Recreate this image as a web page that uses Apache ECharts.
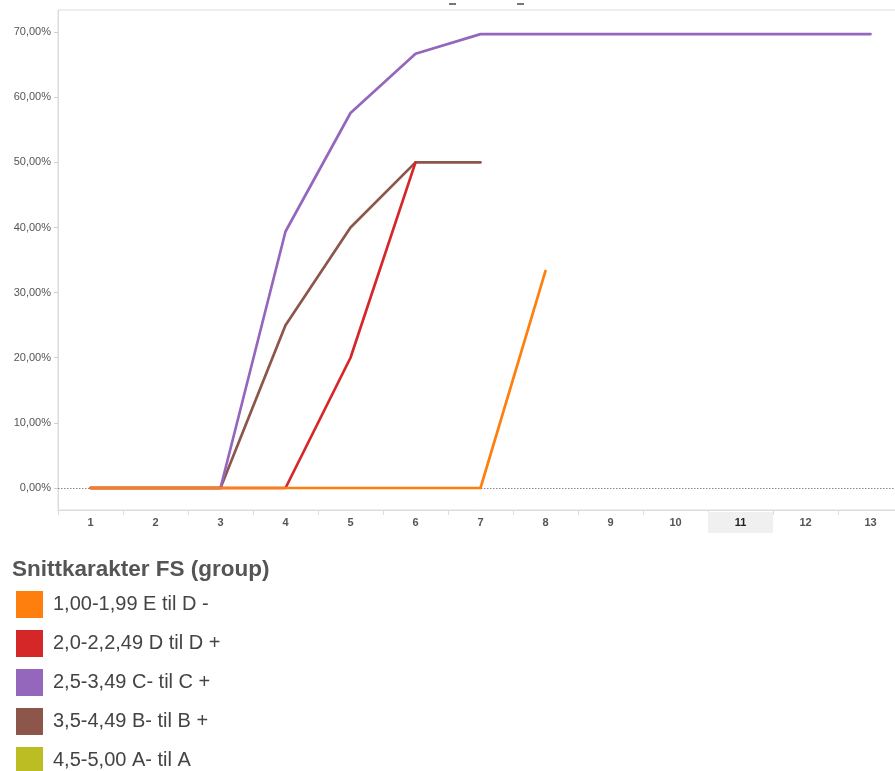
<!DOCTYPE html>
<html>
<head>
<meta charset="utf-8">
<script src="https://cdn.jsdelivr.net/npm/echarts@6/dist/echarts.min.js"></script>
<style>html,body{margin:0;padding:0;background:#fff}#c{width:895px;height:771px}</style>
</head>
<body>
<div id="c"></div>
<script>
const categories = ['1','2','3','4','5','6','7','8','9','10','11','12','13'];
const seriesNames = ['1,00-1,99 E til D -','2,0-2,2,49 D til D +','2,5-3,49 C- til C +','3,5-4,49 B- til B +','4,5-5,00 A- til A'];
const seriesColors = ['#ff7f0e','#d62728','#9467bd','#8c564b','#bcbd22'];
const orangeValues = [0,0,0,0,0,0,0,33.33,null,null,null,null,null];
const redValues    = [0,0,0,0,20,50,null,null,null,null,null,null,null];
const purpleValues = [0,0,0,39.39,57.58,66.67,69.70,69.70,69.70,69.70,69.70,69.70,69.70];
const brownValues  = [0,0,0,25,40,50,50,null,null,null,null,null,null];
const oliveValues  = [null,null,null,null,null,null,null,null,null,null,null,null,null];
const yTicks = [0,10,20,30,40,50,60,70];
const legendTitle = 'Snittkarakter FS (group)';
const highlighted = '11';

const allValues = [orangeValues, redValues, purpleValues, brownValues, oliveValues];
const drawOrder = [4,3,2,1,0];

const chart = echarts.init(document.getElementById('c'));
const fmt = v => v.toFixed(2).replace('.', ',') + '%';

const series = drawOrder.map((idx, k) => {
  const s = {
    name: seriesNames[idx],
    type: 'line',
    data: allValues[idx],
    color: seriesColors[idx],
    symbol: 'none',
    showSymbol: false,
    connectNulls: false,
    animation: false,
    lineStyle: { width: 2.7, color: seriesColors[idx], cap: 'round', join: 'round' },
    z: 3 + k
  };
  if (k === 0) {
    s.markLine = {
      silent: true, symbol: 'none', animation: false,
      label: { show: false },
      lineStyle: { color: '#888', type: [1.5, 1.5], width: 1 },
      data: [{ yAxis: 0 }]
    };
  }
  return s;
});

chart.setOption({
  animation: false,
  backgroundColor: '#fff',
  grid: { left: 58, top: 10, width: 845, height: 500, show: true, borderColor: '#dcdcdc', borderWidth: 1, outerBoundsMode: 'none', containLabel: false },
  xAxis: {
    type: 'category',
    data: categories,
    boundaryGap: true,
    axisLine: { show: true, onZero: false, lineStyle: { color: '#dcdcdc', width: 1 } },
    axisTick: { show: true, length: 5, lineStyle: { color: '#dcdcdc' } },
    axisLabel: {
      margin: 2,
      interval: 0,
      showMinLabel: true,
      showMaxLabel: true,
      hideOverlap: false,
      formatter: v => v === highlighted ? '{h|' + v + '}' : '{n|' + v + '}',
      rich: {
        n: { fontFamily: 'Liberation Sans, Arial', fontSize: 11, fontWeight: 'bold', color: '#555', width: 65, height: 21, lineHeight: 21, align: 'center' },
        h: { fontFamily: 'Liberation Sans, Arial', fontSize: 11, fontWeight: 'bold', color: '#222', width: 65, height: 21, lineHeight: 21, align: 'center', backgroundColor: '#f0f0f0' }
      }
    },
    splitLine: { show: false }
  },
  yAxis: {
    type: 'value',
    min: -3.38,
    max: 73.4,
    axisLine: { show: true, lineStyle: { color: '#dcdcdc' } },
    axisTick: { show: true, length: 4, customValues: yTicks, lineStyle: { color: '#cfcfcf' } },
    axisLabel: {
      customValues: yTicks,
      margin: 7,
      formatter: v => fmt(v),
      fontFamily: 'Liberation Sans, Arial',
      fontSize: 11,
      color: '#555'
    },
    splitLine: { show: false }
  },
  legend: {
    orient: 'vertical',
    left: 16,
    top: 591,
    height: 300,
    padding: 0,
    itemWidth: 27,
    itemHeight: 27,
    itemGap: 12,
    icon: 'rect',
    selectedMode: false,
    data: seriesNames.map((n, i) => ({ name: n, itemStyle: { color: seriesColors[i] } })),
    textStyle: { fontFamily: 'Liberation Sans, Arial', fontSize: 20, color: '#444', padding: [0, 0, 0, 5] }
  },
  graphic: [
    { type: 'text', left: 12, top: 558, style: { text: legendTitle, fontFamily: 'Liberation Sans, Arial', fontSize: 22.5, fontWeight: 'bold', fill: '#555' } },
    { type: 'rect', shape: { x: 449, y: 3, width: 7, height: 2 }, style: { fill: '#777' } },
    { type: 'rect', shape: { x: 517, y: 3, width: 7, height: 2 }, style: { fill: '#777' } }
  ],
  series: series
});
</script>
</body>
</html>
